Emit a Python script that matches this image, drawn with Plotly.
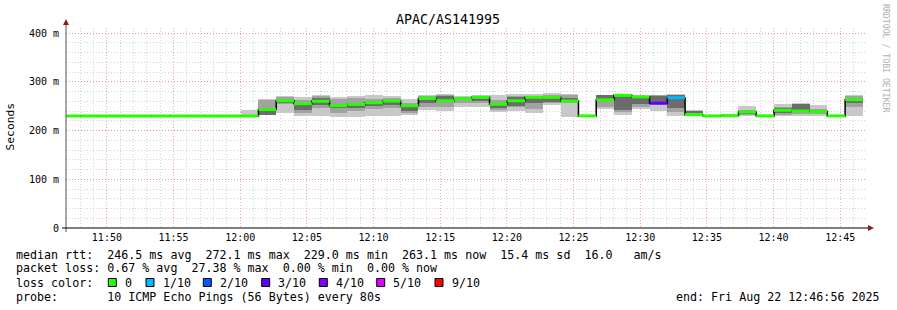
import pandas as pd
import plotly.graph_objects as go

# ---------------- data ----------------
TITLE = "APAC/AS141995"
first_step = "2025-08-22 11:46:42"   # start of first 80 s probe step shown
step_s = 80
view_start = "2025-08-22 11:46:56"
view_end = "2025-08-22 12:46:56"

median_ms = [229.7, 229.7, 229.7, 229.7, 229.7, 229.7, 229.7, 229.7, 229.7, 229.7,
             229.7, 243.0, 261.0, 255.0, 260.0, 251.0, 253.5, 257.0, 260.5, 251.0,
             266.0, 261.0, 265.0, 268.0, 253.7, 261.0, 268.0, 268.0, 260.5, 230.0,
             263.0, 272.1, 269.0, 256.0, 267.3, 232.5, 230.0, 230.4, 238.0, 230.0,
             241.5, 240.0, 239.0, 230.0, 263.1]
loss_tenths = [0, 0, 0, 0, 0, 0, 0, 0, 0, 0,
               0, 0, 0, 0, 0, 0, 0, 0, 0, 0,
               0, 0, 0, 0, 0, 0, 0, 0, 0, 0,
               0, 0, 0, 3, 1, 0, 0, 0, 0, 0,
               0, 0, 0, 0, 0]
N = None
outer_lo = [N, N, N, N, N, N, N, N, N, N,
            229.5, 231, 235, 230, 229, 228, 227, 230, 230, 232,
            242, 240, 249, 249, 237, 240, 235, 252, 227, N,
            245, 232, 244, 241, 229, 231, N, 230, 230, N,
            230, 229, 230, N, 230]
outer_hi = [N, N, N, N, N, N, N, N, N, N,
            242, 264, 271, 269, 272, 268, 271, 273, 270, 265,
            273, 274, 271, 273, 273, 274, 274, 276, 275, N,
            273, 275, 273, 273, 274, 242, N, 234.5, 250, N,
            255, 257, 252, N, 273]
mid_lo = [N, N, N, N, N, N, N, N, N, N,
          N, 232, 255, 236, 246, 235, 239, 245, 246, 235,
          249, 249, 256, 256, 242, 249, 245, 256, 256, N,
          248, 238, 249, 252, 238, 235, N, N, 232, N,
          232, 233, 233, N, 249]
mid_hi = [N, N, N, N, N, N, N, N, N, N,
          N, 262, 268, 262, 270, 265, 266, 265, 266, 256,
          271, 272, 269, 270, 262, 271, 270, 272, 273, N,
          272, 272, 270, 273, 273, 240, N, N, 242, N,
          249, 255, 245, N, 270]
core_lo = [N, N, N, N, N, N, N, N, N, N,
           N, 232, 257, 243, 252, 247, 247, 250, 252, 239,
           256, 258, 262, 261, 246, 251, 256, 259, 258, N,
           262, 242, 255, 256, 246, 236, N, N, 234, N,
           236, 243, 235, N, 256]
core_hi = [N, N, N, N, N, N, N, N, N, N,
           N, 241, 260, 254, 267, 253, 252, 258, 259, 249,
           263, 270, 267, 268, 256, 269, 267, 269, 266, N,
           272, 270, 268, 271, 272, 239, N, N, 240, N,
           246, 254, 240, N, 263]

loss_levels = [0, 1, 2, 3, 4, 5, 9]
loss_labels = ["0", "1/10", "2/10", "3/10", "4/10", "5/10", "9/10"]
loss_colors = ["#26ff00", "#00b8ff", "#0059ff", "#5e00ff", "#7e00ff", "#dd00ff", "#ff0000"]

y_tick_vals = [0, 100, 200, 300, 400]
y_tick_text = ["0", "100 m", "200 m", "300 m", "400 m"]

legend_rtt = "median rtt:  246.5 ms avg  272.1 ms max  229.0 ms min  263.1 ms now  15.4 ms sd  16.0   am/s"
legend_loss = "packet loss: 0.67 % avg  27.38 % max  0.00 % min  0.00 % now"
legend_color = "loss color:"
legend_probe = "probe:       10 ICMP Echo Pings (56 Bytes) every 80s"
legend_end = "end: Fri Aug 22 12:46:56 2025"
watermark = "RRDTOOL / TOBI OETIKER"
y_title = "Seconds"

# ---------------- figure ----------------
starts = pd.date_range(first_step, periods=len(median_ms), freq=f"{step_s}s")
ends = starts + pd.Timedelta(seconds=step_s)
W, H = 897, 310
L, R, T, B = 66, 866, 28, 228
MONO = "DejaVu Sans Mono"

def px(x):
    return (x - L) / (R - L)

def py(y):
    return (B - y) / (B - T)

fig = go.Figure()

def band(lo, hi, color):
    base = [l if (l is not None and h is not None) else None for l, h in zip(lo, hi)]
    hgt = [(h - l) if (l is not None and h is not None) else None for l, h in zip(lo, hi)]
    fig.add_trace(go.Bar(x=starts, y=hgt, base=base, width=step_s * 1000, offset=0,
                         marker=dict(color=color, line=dict(width=0)),
                         hoverinfo="skip", showlegend=False))

band(outer_lo, outer_hi, "#c8c8c8")
band(mid_lo, mid_hi, "#a2a2a2")
band(core_lo, core_hi, "#6c6c6c")

# black median step line
fig.add_trace(go.Scatter(x=list(starts) + [ends[-1]], y=median_ms + [median_ms[-1]],
                         mode="lines", line=dict(color="#000000", width=1.5, shape="hv"),
                         hoverinfo="skip", showlegend=False))

# colored median strips by loss
for lvl, col in zip(loss_levels, loss_colors):
    xs, ys = [], []
    for s, e, m, l in zip(starts, ends, median_ms, loss_tenths):
        if l == lvl:
            xs += [s, e, None]
            ys += [m, m, None]
    if xs:
        fig.add_trace(go.Scatter(x=xs, y=ys, mode="lines",
                                 line=dict(color=col, width=3),
                                 hoverinfo="skip", showlegend=False))

grid_major = "rgba(240,110,110,0.6)"
grid_minor = "rgba(175,175,175,0.55)"

fig.update_layout(
    width=W, height=H,
    margin=dict(l=L, r=W - R, t=T, b=H - B, autoexpand=False),
    paper_bgcolor="#ffffff", plot_bgcolor="#ffffff",
    barmode="overlay", bargap=0, showlegend=False,
    font=dict(family=MONO, color="#000000"),
    xaxis=dict(type="date", range=[view_start, view_end],
               tick0="2025-08-22 11:50:00", dtick=300000, tickformat="%H:%M",
               showgrid=True, gridcolor=grid_major, griddash="1px,2px", gridwidth=1,
               minor=dict(dtick=60000, tick0="2025-08-22 11:50:00", showgrid=True,
                          gridcolor=grid_minor, griddash="1px,2px", gridwidth=1),
               showline=False, zeroline=False, ticks="",
               tickfont=dict(family=MONO, size=10, color="#000000"),
               ticklabelstandoff=2),
    yaxis=dict(range=[0, (B - T) / 0.4875], tickvals=y_tick_vals, ticktext=y_tick_text,
               showgrid=True, gridcolor=grid_major, griddash="1px,2px", gridwidth=1,
               minor=dict(dtick=20, showgrid=True, gridcolor=grid_minor,
                          griddash="1px,2px", gridwidth=1),
               showline=False, zeroline=False, ticks="",
               tickfont=dict(family=MONO, size=10, color="#000000"),
               ticklabelstandoff=6),
)

shapes = []
# y axis line
shapes.append(dict(type="line", xref="paper", yref="paper", x0=px(66), x1=px(66),
                   y0=py(232), y1=py(24), line=dict(color="#505050", width=1)))
# x axis line
shapes.append(dict(type="line", xref="paper", yref="paper", x0=px(62), x1=px(869),
                   y0=py(228), y1=py(228), line=dict(color="#000000", width=1)))
# arrows
shapes.append(dict(type="path", xref="paper", yref="paper",
                   path=f"M {px(63)} {py(25)} L {px(69)} {py(25)} L {px(66)} {py(19)} Z",
                   fillcolor="#8b2020", line=dict(width=0)))
shapes.append(dict(type="path", xref="paper", yref="paper",
                   path=f"M {px(868)} {py(225)} L {px(868)} {py(231)} L {px(874)} {py(228)} Z",
                   fillcolor="#8b2020", line=dict(width=0)))

ann = []
def text(x, y, s, size=11.66, anchor="left", color="#000000", angle=0):
    ann.append(dict(xref="paper", yref="paper", x=px(x), y=py(y), text=s.replace(" ", "\u00a0"),
                    showarrow=False, xanchor=anchor, yanchor="middle", textangle=angle,
                    font=dict(family=MONO, size=size, color=color), borderpad=0))

text(448, 19, TITLE, size=13.3, anchor="center")
text(10, 126.5, y_title, size=11.3, anchor="center", angle=-90)
text(886, 59, watermark, size=8.2, anchor="center", color="#b0b0b0", angle=90)
text(15, 254.7, legend_rtt)
text(15, 268.3, legend_loss)
text(15, 282.7, legend_color)
text(15, 296.7, legend_probe)
text(881, 296.7, legend_end, anchor="right")

box_x = [108.3, 146, 203.3, 261.7, 319.3, 376.7, 435]
for bx, col, lab in zip(box_x, loss_colors, loss_labels):
    shapes.append(dict(type="rect", xref="paper", yref="paper",
                       x0=px(bx), x1=px(bx + 8), y0=py(286.5), y1=py(278.5),
                       fillcolor=col, line=dict(color="#000000", width=1)))
    text(bx + 15.5, 282.7, lab)

fig.update_layout(shapes=shapes, annotations=ann)
fig.write_html("out.html")
